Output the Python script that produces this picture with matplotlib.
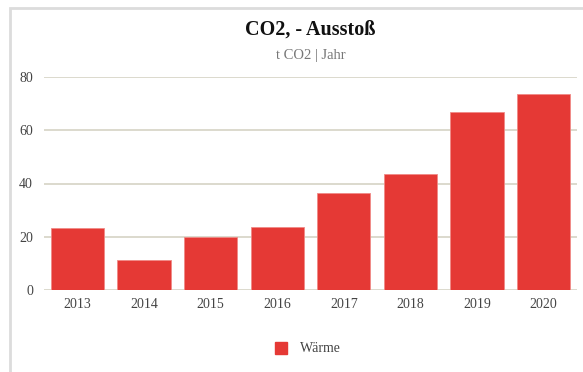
import matplotlib.pyplot as plt
from matplotlib.patches import Rectangle
from matplotlib.lines import Line2D

# data
years = ['2013', '2014', '2015', '2016', '2017', '2018', '2019', '2020']
waerme = [23.1, 11.3, 20.0, 23.8, 36.6, 43.7, 67.0, 73.5]
yticks = [0, 20, 40, 60, 80]

plt.rcParams['font.family'] = ['Liberation Serif', 'DejaVu Serif']

W, H = 583, 372
fig = plt.figure(figsize=(W / 100, H / 100), dpi=100)

# light frame around the card (right/bottom edge outside the picture)
fig.patches.append(Rectangle((10 / W, -0.05), 1.1, 1 - 8 / H + 0.05, transform=fig.transFigure,
                             fill=False, edgecolor='#dcdcdc', linewidth=2))

ax = fig.add_axes([44 / W, 1 - 290 / H, 533 / W, 213 / H])
x = range(len(years))
ax.bar(x, waerme, width=0.8, color='#e53935', edgecolor='#f08a87', linewidth=0.6, zorder=3)

ax.set_xlim(-0.5, len(years) - 0.5)
ax.set_ylim(0, 80)
ax.set_yticks(yticks)
ax.set_xticks(list(x))
ax.set_xticklabels(years)
for s in ax.spines.values():
    s.set_visible(False)
ax.yaxis.grid(True, color='#dcd9cd', linewidth=1.4, zorder=0)
ax.tick_params(axis='both', length=0, labelsize=10, labelcolor='#444444')
ax.tick_params(axis='y', pad=8)
ax.tick_params(axis='x', pad=6)

fig.text(0.5 * (44 + 577) / W, 1 - 30 / H, 'CO2, - Ausstoß', ha='center', va='center',
         fontsize=14.5, fontweight='bold', color='#111111')
fig.text(0.5 * (44 + 577) / W, 1 - 55 / H, 't CO2 | Jahr', ha='center', va='center',
         fontsize=10.5, color='#777777')

handle = Line2D([], [], marker='s', linestyle='none', markersize=9,
                markerfacecolor='#e53935', markeredgecolor='#e53935')
fig.legend([handle], ['Wärme'], loc='center', bbox_to_anchor=(304 / W, 1 - 349 / H),
           frameon=False, fontsize=10, handletextpad=0.4, labelcolor='#444444')

fig.savefig('out.png', dpi=100)
